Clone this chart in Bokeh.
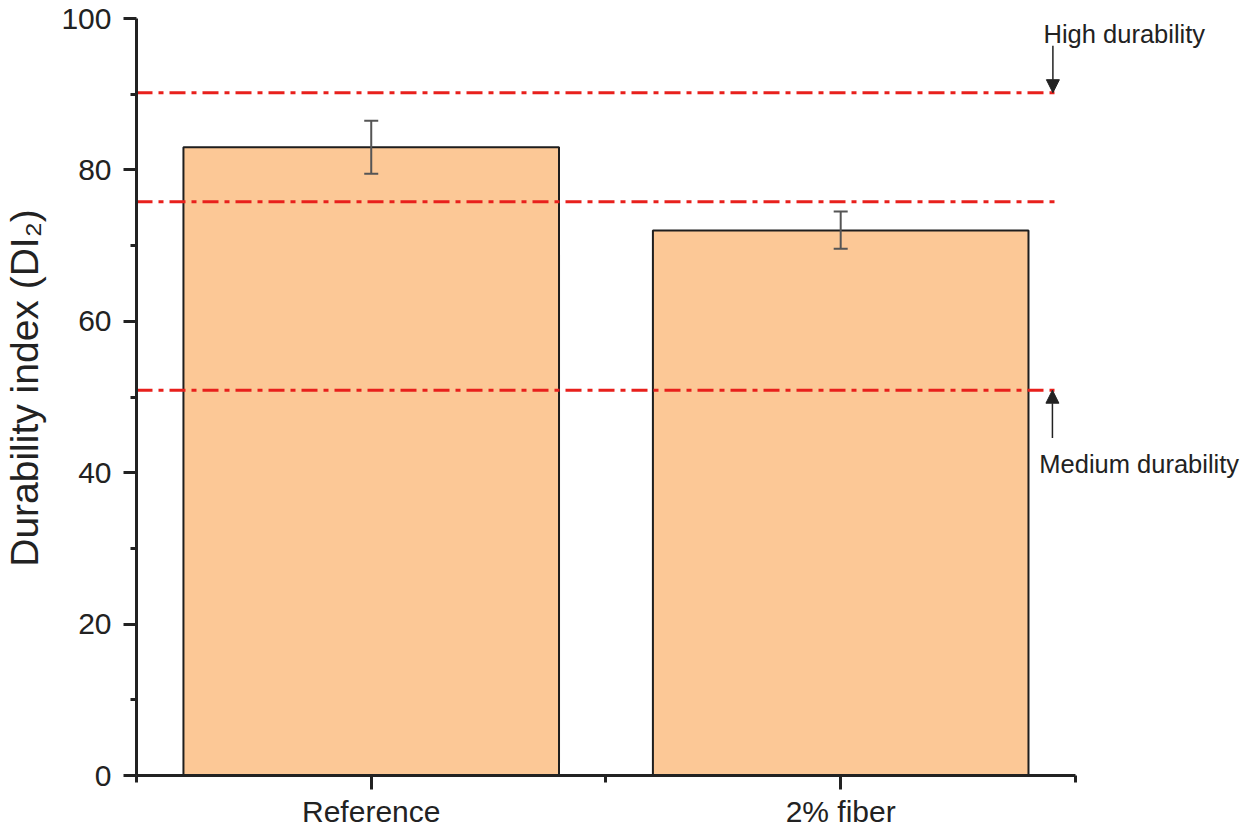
from bokeh.plotting import figure
from bokeh.models import (Range1d, FixedTicker, Whisker, ColumnDataSource, Arrow,
                          NormalHead, Label, TeeHead)
from bokeh.embed import file_html
from bokeh.resources import INLINE

categories = ["Reference", "2% fiber"]
values = [83.0, 72.0]
err_low = [79.5, 69.6]
err_high = [86.5, 74.5]
levels = [90.2, 75.8, 50.9]
y_ticks = [0, 20, 40, 60, 80, 100]
y_minor = [10, 30, 50, 70, 90]
notes = ["High durability", "Medium durability"]

xpos = [i + 0.5 for i in range(len(categories))]

p = figure(frame_width=1107, frame_height=775, output_backend="svg", toolbar_location=None,
           x_range=Range1d(0, 2.358), y_range=Range1d(0, 102.38),
           min_border_left=120, min_border_right=0, min_border_top=0,
           min_border_bottom=0)
p.outline_line_color = None
p.xgrid.visible = False
p.ygrid.visible = False
p.background_fill_color = "white"

src = ColumnDataSource(dict(x=xpos, top=values, lo=err_low, hi=err_high))
p.vbar(x="x", top="top", bottom=0, width=0.8, source=src,
       fill_color="#fcc896", line_color="#1e1e1e", line_width=2)

ink = "#222222"
# reference lines
p.segment(x0=[0] * len(levels), x1=[1.968] * len(levels), y0=levels, y1=levels,
          line_color="#e8201c", line_width=3, line_dash="16 6 5 6")

w = Whisker(source=src, base="x", lower="lo", upper="hi", level="overlay",
            line_color="#555555", line_width=2,
            upper_head=TeeHead(size=14, line_color="#555555", line_width=2),
            lower_head=TeeHead(size=14, line_color="#555555", line_width=2))
p.add_layout(w)

# axes
for ax in (p.xaxis[0], p.yaxis[0]):
    ax.axis_line_color = ink
    ax.axis_line_width = 3
    ax.major_tick_line_color = ink
    ax.major_tick_line_width = 3
    ax.minor_tick_line_color = ink
    ax.minor_tick_line_width = 3
    ax.major_tick_in = 0
    ax.minor_tick_in = 0
    ax.major_label_text_font = "Liberation Sans"
    ax.major_label_text_color = ink
    ax.major_label_text_font_size = "30px"

p.yaxis.bounds = (0, 100)
p.yaxis.ticker = FixedTicker(ticks=y_ticks, minor_ticks=y_minor)
p.yaxis.major_tick_out = 13
p.yaxis.minor_tick_out = 6
p.yaxis.major_label_standoff = 12
p.yaxis.axis_label = "Durability index (DI\u2082)"
p.yaxis.axis_label_text_font = "Liberation Sans"
p.yaxis.axis_label_text_font_style = "normal"
p.yaxis.axis_label_text_font_size = "39px"
p.yaxis.axis_label_text_color = ink
p.yaxis.axis_label_standoff = 12

p.xaxis.bounds = (0, 2)
p.xaxis.ticker = FixedTicker(ticks=xpos, minor_ticks=[0, 1, 2])
p.xaxis.major_label_overrides = {x: c for x, c in zip(xpos, categories)}
p.xaxis.major_tick_out = 14
p.xaxis.minor_tick_out = 7
p.xaxis.major_label_standoff = 5

# annotations
head1 = NormalHead(size=13, fill_color=ink, line_color=ink)
head2 = NormalHead(size=13, fill_color=ink, line_color=ink)
p.add_layout(Arrow(end=head1, x_start=1.952, y_start=96.4, x_end=1.952, y_end=levels[0],
                   line_color=ink, line_width=1.5))
p.add_layout(Arrow(end=head2, x_start=1.951, y_start=44.6, x_end=1.951, y_end=levels[2],
                   line_color=ink, line_width=1.5))
p.add_layout(Label(x=1.932, y=97.9, text=notes[0], text_font="Liberation Sans",
                   text_font_size="25.5px", text_color=ink, text_baseline="alphabetic"))
p.add_layout(Label(x=1.923, y=41.1, text=notes[1], text_font="Liberation Sans",
                   text_font_size="25.5px", text_color=ink, text_baseline="alphabetic"))

open("out.html", "w").write(file_html(p, INLINE))
